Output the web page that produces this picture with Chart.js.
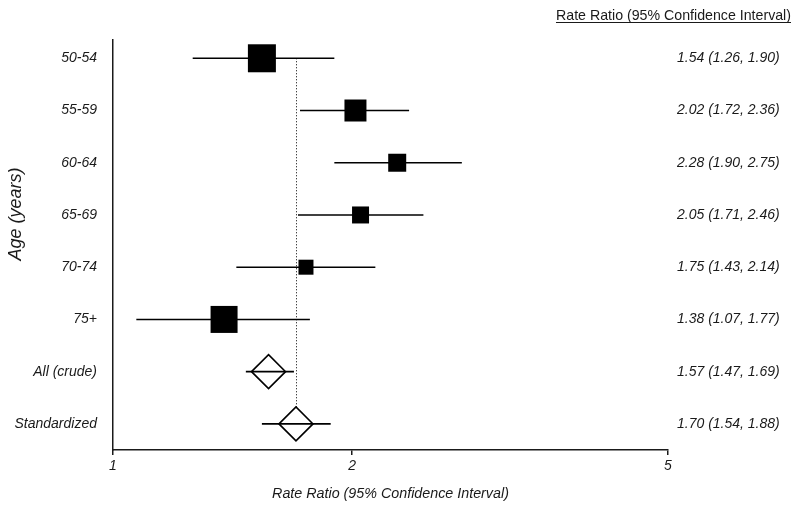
<!DOCTYPE html>
<html><head><meta charset="utf-8">
<script src="https://cdn.jsdelivr.net/npm/chart.js@4"></script>
<style>html,body{margin:0;padding:0;background:#fff}</style>
</head><body>
<canvas id="c" width="800" height="510"></canvas>
<script>
const rowLabels = ['50-54','55-59','60-64','65-69','70-74','75+','All (crude)','Standardized'];
const rateRatio = [1.54, 2.02, 2.28, 2.05, 1.75, 1.38, 1.57, 1.70];
const ciLower   = [1.26, 1.72, 1.90, 1.71, 1.43, 1.07, 1.47, 1.54];
const ciUpper   = [1.90, 2.36, 2.75, 2.46, 2.14, 1.77, 1.69, 1.88];
const xTickValues = [1, 2, 5];
const headerText = 'Rate Ratio (95% Confidence Interval)';
const xTitle = 'Rate Ratio (95% Confidence Interval)';
const yTitle = 'Age (years)';

// style: square side lengths (px) for age-group estimates
const boxSide = [28, 22, 18, 17, 15, 27];
const diamondHalf = 17;

const ciText = rateRatio.map((v, i) => v.toFixed(2) + ' (' + ciLower[i].toFixed(2) + ', ' + ciUpper[i].toFixed(2) + ')');
const nAge = 6;

const FONT = "'Liberation Sans', Arial, sans-serif";
const INK = '#1a1a1a';
Chart.defaults.font.family = FONT;
Chart.defaults.color = INK;

const squarePts = [], diamondPts = [];
rateRatio.forEach((v, i) => { (i < nAge ? squarePts : diamondPts).push({x: v, y: i}); });

const forestPlugin = {
  id: 'forest',
  beforeDatasetsDraw(chart) {
    const {ctx, scales: {x, y}} = chart;
    const xr = x.getPixelForValue(rateRatio[rateRatio.length - 1]);
    ctx.save();
    ctx.strokeStyle = '#000';
    ctx.lineWidth = 1;
    ctx.setLineDash([1, 2]);
    ctx.beginPath();
    ctx.moveTo(Math.round(xr) + 0.5, y.getPixelForValue(0));
    ctx.lineTo(Math.round(xr) + 0.5, y.getPixelForValue(rowLabels.length - 1));
    ctx.stroke();
    ctx.restore();
  },
  afterDatasetsDraw(chart) {
    const {ctx, scales: {x, y}} = chart;
    ctx.save();
    ctx.strokeStyle = '#000';
    ctx.lineWidth = 1.6;
    rowLabels.forEach((_, i) => {
      const py = y.getPixelForValue(i);
      ctx.beginPath();
      ctx.moveTo(x.getPixelForValue(ciLower[i]), py);
      ctx.lineTo(x.getPixelForValue(ciUpper[i]), py);
      ctx.stroke();
    });
    ctx.restore();
  },
  afterDraw(chart) {
    const {ctx} = chart;
    ctx.save();
    // header (underlined)
    ctx.font = '14.2px ' + FONT;
    ctx.fillStyle = INK;
    ctx.textAlign = 'right';
    ctx.textBaseline = 'alphabetic';
    const right = 791, base = 20;
    ctx.fillText(headerText, right, base);
    const w = ctx.measureText(headerText).width;
    ctx.strokeStyle = INK;
    ctx.lineWidth = 1;
    ctx.beginPath();
    ctx.moveTo(right - w, base + 2.5);
    ctx.lineTo(right, base + 2.5);
    ctx.stroke();
    // y-axis title (rotated)
    ctx.translate(16, 214);
    ctx.rotate(-Math.PI / 2);
    ctx.font = 'italic 18px ' + FONT;
    ctx.textAlign = 'center';
    ctx.textBaseline = 'middle';
    ctx.fillText(yTitle, 0, 0);
    ctx.restore();
  }
};

const yCommon = {
  type: 'linear', min: -0.35, max: 7.5, reverse: true,
  afterBuildTicks: s => { s.ticks = rowLabels.map((_, i) => ({value: i})); },
  grid: {display: false, drawTicks: false},
};

new Chart(document.getElementById('c'), {
  type: 'scatter',
  data: {
    datasets: [
      {
        data: squarePts,
        pointStyle: 'rect',
        pointRadius: boxSide.map(s => s / 2 / Math.SQRT1_2),
        pointHoverRadius: boxSide.map(s => s / 2 / Math.SQRT1_2),
        backgroundColor: '#000', borderColor: '#000', borderWidth: 0
      },
      {
        data: diamondPts,
        pointStyle: 'rectRot',
        pointRadius: diamondHalf,
        pointHoverRadius: diamondHalf,
        backgroundColor: '#fff', borderColor: '#000', borderWidth: 1.6
      }
    ]
  },
  options: {
    responsive: false, animation: false, devicePixelRatio: 1,
    layout: {padding: {top: 40, left: 0, right: 0, bottom: 0}},
    plugins: {legend: {display: false}, tooltip: {enabled: false}},
    scales: {
      x: {
        type: 'logarithmic', min: 1, max: 5,
        afterBuildTicks: s => { s.ticks = xTickValues.map(v => ({value: v})); },
        afterFit: s => { s.height = 60; },
        ticks: {callback: v => String(v), font: {size: 14, style: 'italic'}, padding: 3, color: INK, maxRotation: 0, autoSkip: false},
        grid: {display: true, drawOnChartArea: false, drawTicks: true, tickLength: 5, color: INK, lineWidth: 1.5},
        border: {display: true, color: INK, width: 1.5},
        title: {display: true, text: xTitle, font: {size: 14.3, style: 'italic'}, color: INK, padding: {top: 8, bottom: 7}}
      },
      y: Object.assign({}, yCommon, {
        position: 'left',
        afterFit: s => { s.width = 113; },
        ticks: {callback: v => rowLabels[v], font: {size: 14, style: 'italic'}, padding: 16, color: INK, autoSkip: false},
        border: {display: true, color: INK, width: 1.5},
        title: {display: false}
      }),
      y2: Object.assign({}, yCommon, {
        position: 'right',
        afterFit: s => { s.width = 132; },
        ticks: {callback: v => ciText[v], font: {size: 14, style: 'italic'}, padding: 9, crossAlign: 'near', color: INK, autoSkip: false},
        border: {display: false}
      })
    }
  },
  plugins: [forestPlugin]
});
</script>
</body></html>
